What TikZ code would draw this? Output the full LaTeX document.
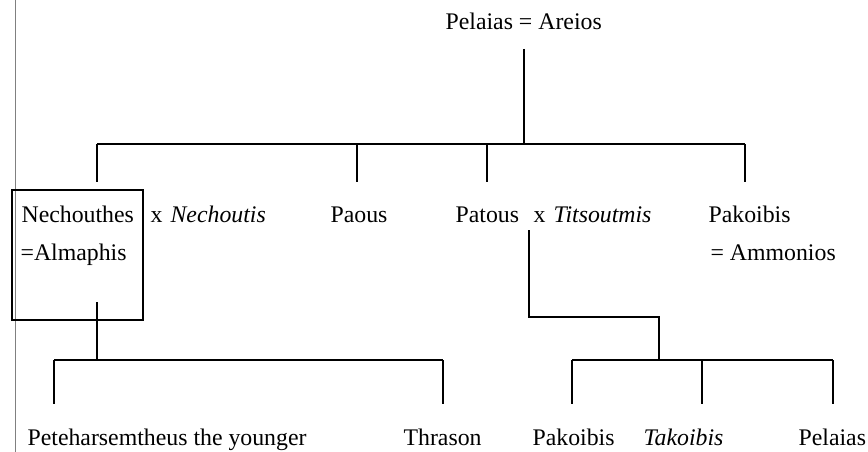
\documentclass[tikz,border=0pt]{standalone}
\usepackage{fontspec}
\setmainfont{Liberation Serif}
\usetikzlibrary{calc}
\begin{document}
\begin{tikzpicture}[x=1pt, y=-1pt, line width=1.2pt,
  person/.style={inner sep=0pt, anchor=base west, font=\fontsize{23.8}{28}\selectfont},
  spouse/.style={person, font=\fontsize{23.8}{28}\selectfont\itshape}]
\useasboundingbox (0,0) rectangle (868,452);
\draw[gray, line width=1.3pt] (15.5,0) -- (15.5,452);
% first generation
\node[person] (areios) at (445,30) {Pelaias = Areios};
\coordinate (pdrop) at (524,49);
\coordinate (bar1w) at (97,144);
\coordinate (bar1e) at (745,144);
\draw (pdrop) -- (pdrop |- bar1w);
\draw (bar1w) -- (bar1e);
% second generation
\node[person] (nechouthes) at (21,222) {Nechouthes};
\node[person] (almaphis) at (20,260) {=Almaphis};
\node[person] (nx) at (150,222) {x};
\node[spouse] (nechoutis) at (170,222) {Nechoutis};
\node[person] (paous) at (330,222) {Paous};
\node[person] (patous) at (455,222) {Patous};
\node[person] (px) at (533,222) {x};
\node[spouse] (titsoutmis) at (553,222) {Titsoutmis};
\node[person] (pakoibis) at (708,222) {Pakoibis};
\node[person] (ammonios) at (710,260) {= Ammonios};
\node[draw, inner sep=0pt, minimum width=131pt, minimum height=130pt] (nbox) at (77.5,255) {};
\foreach \c/\x in {c1/97, c2/357, c3/487, c4/745}{
  \coordinate (\c) at (\x,182);
  \draw (\c |- bar1w) -- (\c);
}
% children of Nechouthes
\coordinate (nbirth) at (97,302);
\coordinate (bar2w) at (54,360);
\coordinate (bar2e) at (443,360);
\draw (nbirth) -- (nbirth |- bar2w);
\draw (bar2w) -- (bar2e);
\foreach \c/\x in {g1/54, g2/443}{
  \coordinate (\c) at (\x,404);
  \draw (\c |- bar2w) -- (\c);
}
% children of Patous
\coordinate (pbirth) at (529,230);
\coordinate (pknee) at (659,317);
\coordinate (bar3w) at (572,360);
\coordinate (bar3e) at (833,360);
\draw (pbirth) |- (pknee) -- (pknee |- bar3w);
\draw (bar3w) -- (bar3e);
\foreach \c/\x in {g3/572, g4/702, g5/833}{
  \coordinate (\c) at (\x,404);
  \draw (\c |- bar3w) -- (\c);
}
% third generation
\node[person] (peteharsemtheus) at (27,445) {Peteharsemtheus the younger};
\node[person] (thrason) at (403,445) {Thrason};
\node[person] (pakoibis2) at (532,445) {Pakoibis};
\node[spouse] (takoibis) at (643,445) {Takoibis};
\node[person] (pelaias2) at (798,445) {Pelaias};
\end{tikzpicture}
\end{document}
